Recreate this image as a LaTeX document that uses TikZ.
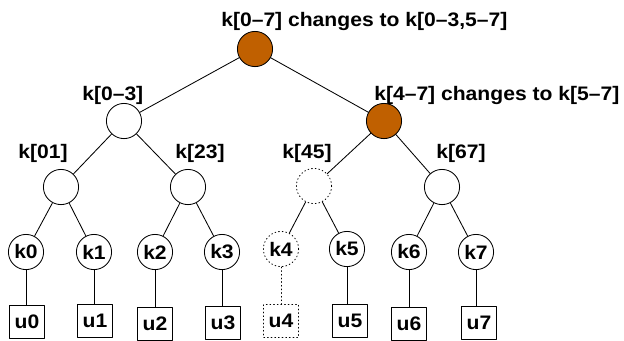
\documentclass[tikz,border=0pt]{standalone}
\usepackage{fontspec}
\setmainfont{Liberation Sans}[FakeStretch=1.08]
\usepackage{tikz}
\definecolor{ktBrown}{HTML}{C06000}
\definecolor{ktInk}{HTML}{000000}
\tikzset{
  kt diagram/.style={font=\bfseries\fontsize{13.9}{16}\selectfont, text=ktInk,
    line cap=round, line join=round},
  kt key/.style={circle, draw=ktInk, fill=white, line width=0.6pt,
    minimum size=8.8mm, inner sep=0pt},
  kt changed/.style={kt key, fill=ktBrown},
  kt gone/.style={kt key, dotted},
  kt user/.style={rectangle, draw=ktInk, fill=white, line width=0.6pt,
    minimum width=8.6mm, minimum height=8.3mm, inner sep=0pt},
  kt gone user/.style={kt user, dotted},
  kt edge/.style={draw=ktInk, line width=0.6pt},
  kt label/.style={anchor=base west, inner sep=0pt}
}
\begin{document}
\begin{tikzpicture}[kt diagram,x=0.25mm,y=-0.25mm]
\useasboundingbox (0,0) rectangle (624,341);
% key tree, coordinates in pixels of the reference
\node[kt changed] (root) at (255,49) {};
\node[kt key] (k03) at (124,121) {};
\node[kt changed] (k47) at (384,121) {};
\node[kt key] (k01) at (61,187) {};
\node[kt key] (k23) at (188,187) {};
\node[kt gone] (k45) at (314,186) {};
\node[kt key] (k67) at (442,187) {};
\foreach \i/\x/\y in {0/26/252,1/94/252,2/155/252,3/222/252,5/347/249,6/409/252,7/476/252}
  \node[kt key] (k\i) at (\x,\y) {k\i};
\node[kt gone] (k4) at (281,249) {k4};
\foreach \i/\x/\y in {0/27/322,1/95/321,2/155/324,3/223/323,5/350/321,6/409/324,7/479/323}
  \node[kt user] (u\i) at (\x,\y) {u\i};
\node[kt gone user] (u4) at (281,321) {u4};
% labels
\node[kt label] (t07) at (221,26) {k[0--7] changes to k[0--3,5--7]};
\node[kt label] (t03) at (82,100) {k[0--3]};
\node[kt label] (t47) at (374,100) {k[4--7] changes to k[5--7]};
\node[kt label] (t01) at (18,158) {k[01]};
\node[kt label] (t23) at (175,158) {k[23]};
\node[kt label] (t45) at (282,158) {k[45]};
\node[kt label] (t67) at (436,158) {k[67]};
% edges
\foreach \p/\c in {root/k03,root/k47,k03/k01,k03/k23,k47/k45,k47/k67,
    k01/k0,k01/k1,k23/k2,k23/k3,k45/k4,k45/k5,k67/k6,k67/k7}
  \draw[kt edge] (\p) -- (\c);
\foreach \i in {0,1,2,3,5,6,7}
  \draw[kt edge] (k\i) -- (k\i.south |- u\i.north);
\draw[kt edge, dotted] (k4) -- (k4.south |- u4.north);
\end{tikzpicture}
\end{document}
